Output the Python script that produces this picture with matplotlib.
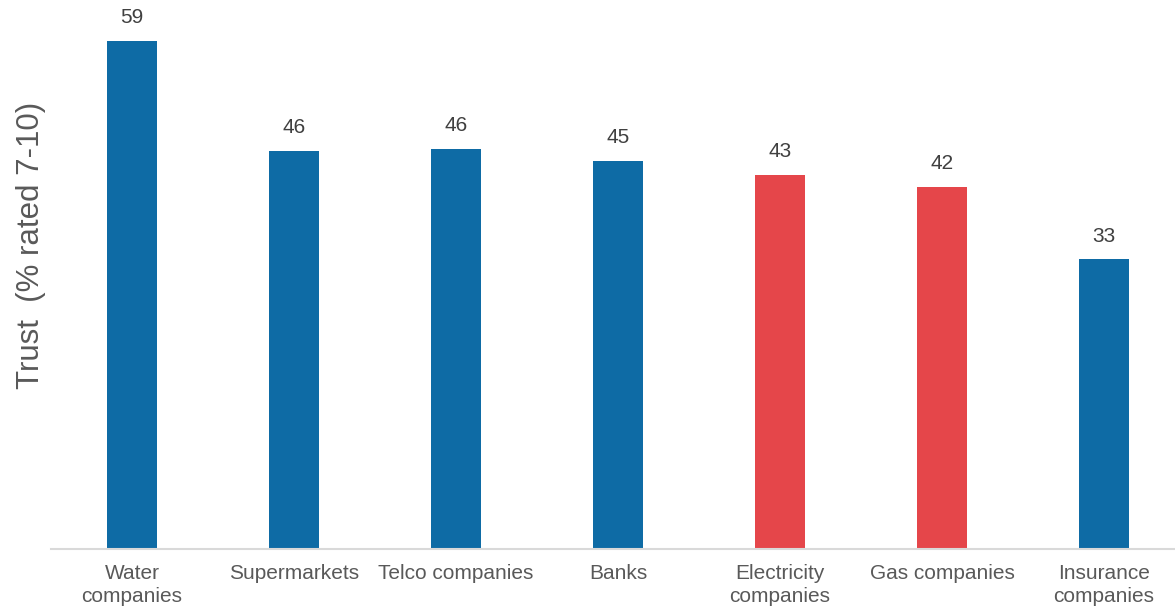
import matplotlib.pyplot as plt

categories = ["Water\ncompanies", "Supermarkets", "Telco companies", "Banks",
              "Electricity\ncompanies", "Gas companies", "Insurance\ncompanies"]
# unrounded values; labels show the rounded figures
trust = [58.6, 45.9, 46.1, 44.8, 43.1, 41.8, 33.4]
labels = ["59", "46", "46", "45", "43", "42", "33"]
highlight = [False, False, False, False, True, True, False]

BLUE = "#0E6BA5"
RED = "#E5464A"

plt.rcParams['font.family'] = ['Liberation Sans', 'DejaVu Sans']

fig = plt.figure(figsize=(11.75, 6.12), dpi=100)
# axes spans past the right edge so spacing matches the original
ax = fig.add_axes([51 / 1175, 1 - 549 / 612, 1134 / 1175, 549 / 612])

x = list(range(len(categories)))
colors = [RED if h else BLUE for h in highlight]
ax.bar(x, trust, width=0.31, color=colors)

for xi, v, lab in zip(x, trust, labels):
    ax.annotate(lab, (xi, v), xytext=(0, 10), textcoords="offset points",
                ha="center", va="bottom", fontsize=15, color="#404040")

ax.set_xlim(-0.5, 6.5)
ax.set_ylim(0, 549 / 8.67)
ax.set_xticks(x)
ax.set_xticklabels(categories, fontsize=15, color="#595959", linespacing=1.25)
ax.tick_params(axis="x", length=0, pad=11)
ax.set_yticks([])

for s in ["top", "right", "left"]:
    ax.spines[s].set_visible(False)
ax.spines["bottom"].set_color("#D9D9D9")
ax.spines["bottom"].set_linewidth(1.5)

fig.text(31 / 1175, 1 - 245 / 612, "Trust  (% rated 7-10)", rotation=90,
         ha="center", va="center", fontsize=22.5, color="#595959")

fig.savefig("out.png", dpi=100)
